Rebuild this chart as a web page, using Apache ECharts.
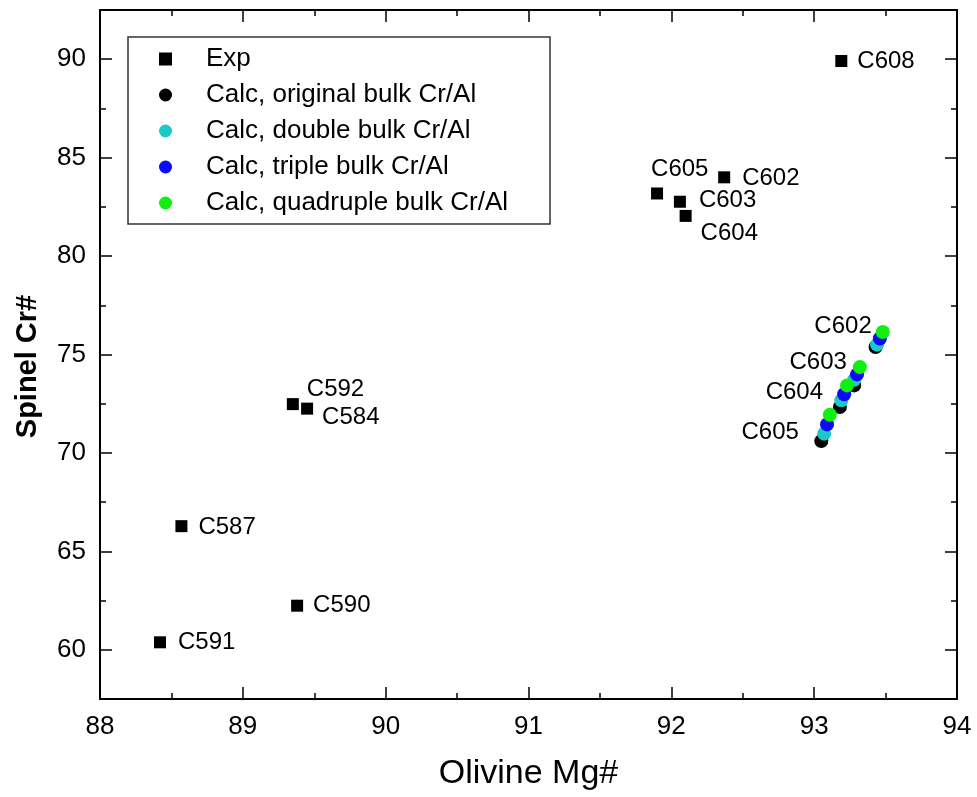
<!DOCTYPE html>
<html>
<head>
<meta charset="utf-8">
<script src="https://cdn.jsdelivr.net/npm/echarts@6/dist/echarts.min.js"></script>
<style>
  html, body { margin: 0; padding: 0; background: #fff; }
  #chart { width: 977px; height: 797px; }
</style>
</head>
<body>
<div id="chart"></div>
<script>
// Experimental runs: olivine Mg# vs spinel Cr#
const expNames = ['C608', 'C605', 'C602', 'C603', 'C604', 'C592', 'C584', 'C587', 'C590', 'C591'];
const expMg = [93.19, 91.90, 92.37, 92.06, 92.10, 89.35, 89.45, 88.57, 89.38, 88.42];
const expCr = [89.91, 83.18, 84.00, 82.76, 82.04, 72.48, 72.25, 66.28, 62.24, 60.38];

// Calculated compositions for four bulk Cr/Al scenarios
const calcNames = ['C602', 'C603', 'C604', 'C605'];
const origMg = [93.43, 93.28, 93.18, 93.05];
const origCr = [75.38, 73.43, 72.33, 70.60];
const doubleMg = [93.44, 93.28, 93.19, 93.07];
const doubleCr = [75.50, 73.72, 72.67, 70.98];
const tripleMg = [93.46, 93.30, 93.21, 93.09];
const tripleCr = [75.81, 73.99, 72.98, 71.45];
const quadMg = [93.48, 93.32, 93.23, 93.11];
const quadCr = [76.14, 74.36, 73.43, 71.94];

// Axis ticks
const xTicks = [88, 89, 90, 91, 92, 93, 94];
const yTicks = [60, 65, 70, 75, 80, 85, 90];
const yMinorTicks = [57.5, 62.5, 67.5, 72.5, 77.5, 82.5, 87.5, 92.5];

const FONT = 'Liberation Sans, Arial, Helvetica, sans-serif';

// label placement for each annotated point
const expLabelOffset = {
  C608: [5, 0], C602: [7, 1], C603: [8, -1], C604: [4, 17], C605: [-17, -24],
  C592: [3, -15], C584: [4, 9], C587: [6, 1], C590: [5, 0], C591: [7, 0]
};
const calcLabelOffset = {
  C602: [1, -6], C603: [-1, -5], C604: [-12, 7], C605: [-19, 18]
};

function pairs(xs, ys, names) {
  return xs.map((x, i) => ({ name: names[i], value: [x, ys[i]] }));
}

const chart = echarts.init(document.getElementById('chart'), null, { renderer: 'canvas' });

const axisLine = { show: true, onZero: false, lineStyle: { color: '#000', width: 2 } };

function xAxisDef(position, showLabels) {
  return {
    type: 'value', position: position, min: 88, max: 94, interval: 1,
    axisLine: axisLine,
    axisTick: { show: true, inside: true, length: 12, lineStyle: { color: '#000', width: 1.5 } },
    minorTick: { show: true, splitNumber: 2, length: 6, lineStyle: { color: '#000', width: 1.5 } },
    axisLabel: {
      show: showLabels, color: '#000', fontFamily: FONT, fontSize: 26, margin: 15,
      customValues: xTicks
    },
    splitLine: { show: false },
    name: showLabels ? 'Olivine Mg#' : '',
    nameLocation: 'middle', nameGap: 58,
    nameTextStyle: { color: '#000', fontFamily: FONT, fontSize: 34 }
  };
}

function yAxisDef(position, major, showLabels) {
  const ticks = major ? yTicks : yMinorTicks;
  return {
    type: 'value', position: position, min: 57.5, max: 92.5, interval: 2.5,
    axisLine: major ? axisLine : { show: false },
    axisTick: {
      show: true, inside: true, length: major ? 12 : 6, customValues: ticks,
      lineStyle: { color: '#000', width: 1.5 }
    },
    axisLabel: {
      show: showLabels, color: '#000', fontFamily: FONT, fontSize: 26, margin: 14,
      customValues: yTicks,
      formatter: v => (Math.abs(v % 5) < 1e-6 ? String(v) : '')
    },
    splitLine: { show: false },
    name: showLabels ? 'Spinel Cr#' : '',
    nameLocation: 'middle', nameGap: 58,
    nameTextStyle: {
      color: '#000', fontFamily: FONT, fontSize: 29, fontWeight: 'bold',
      padding: [0, 24, 0, 0]
    }
  };
}

const labelBase = { show: true, color: '#000', opacity: 1, fontFamily: FONT, fontSize: 24 };

function dotStyle(color) {
  return { color: color, opacity: 1 };
}

const option = {
  animation: false,
  backgroundColor: '#fff',
  grid: { left: 100, right: 20, top: 10, bottom: 98, containLabel: false },
  xAxis: [xAxisDef('bottom', true), xAxisDef('top', false)],
  yAxis: [
    yAxisDef('left', true, true),
    yAxisDef('right', true, false),
    yAxisDef('left', false, false),
    yAxisDef('right', false, false)
  ],
  legend: {
    orient: 'vertical', left: 128, top: 37,
    padding: [9, 42, 8, 31], itemGap: 10, itemWidth: 13, itemHeight: 13,
    borderColor: '#333', borderWidth: 1.5, backgroundColor: '#fff',
    textStyle: { color: '#000', fontFamily: FONT, fontSize: 26, lineHeight: 25, padding: [0, 0, 0, 29] },
    data: ['Exp', 'Calc, original bulk Cr/Al', 'Calc, double bulk Cr/Al',
           'Calc, triple bulk Cr/Al', 'Calc, quadruple bulk Cr/Al']
  },
  series: [
    {
      name: 'Exp', type: 'scatter', symbol: 'rect', symbolSize: 12,
      itemStyle: dotStyle('#000'),
      data: pairs(expMg, expCr, expNames).map(d => Object.assign(d, {
        label: Object.assign({}, labelBase, {
          position: 'right', distance: 5, offset: expLabelOffset[d.name], formatter: '{b}'
        })
      })),
      z: 5
    },
    {
      name: 'Calc, original bulk Cr/Al', type: 'scatter', symbol: 'circle', symbolSize: 14,
      itemStyle: dotStyle('#000'), data: pairs(origMg, origCr, calcNames), z: 2
    },
    {
      name: 'Calc, double bulk Cr/Al', type: 'scatter', symbol: 'circle', symbolSize: 14,
      itemStyle: dotStyle('#1cc8c8'), data: pairs(doubleMg, doubleCr, calcNames), z: 3
    },
    {
      name: 'Calc, triple bulk Cr/Al', type: 'scatter', symbol: 'circle', symbolSize: 14,
      itemStyle: dotStyle('#0a0aff'), data: pairs(tripleMg, tripleCr, calcNames), z: 4
    },
    {
      name: 'Calc, quadruple bulk Cr/Al', type: 'scatter', symbol: 'circle', symbolSize: 14,
      itemStyle: dotStyle('#10f010'),
      data: pairs(quadMg, quadCr, calcNames).map(d => Object.assign(d, {
        label: Object.assign({}, labelBase, {
          position: 'left', distance: 5, offset: calcLabelOffset[d.name], formatter: '{b}'
        })
      })),
      z: 5
    }
  ]
};

chart.setOption(option);
</script>
</body>
</html>
